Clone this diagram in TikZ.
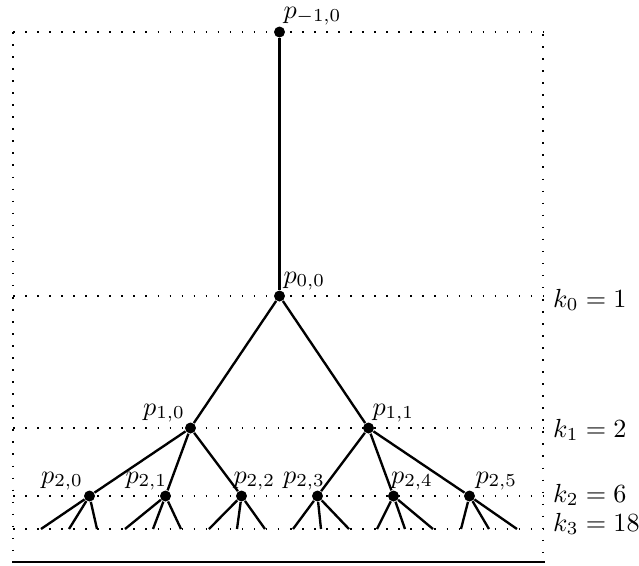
\documentclass[tikz,border=0pt]{standalone}
\begin{document}
\begin{tikzpicture}[x=0.382pt,y=-0.382pt,
  dot/.style={circle,fill=black,inner sep=0pt,minimum size=4.2pt},
  edge/.style={line width=0.9pt},
  guide/.style={dash pattern=on 0.6pt off 4pt,line width=0.7pt},
  base/.style={line width=1.1pt},
  lab/.style={anchor=base west,inner sep=0pt}]
\useasboundingbox (0,0) rectangle (639,565);
% guide lines
\foreach \n/\y in {t/32,a/296,b/428,c/496,d/529}{
  \coordinate (L\n) at (13,\y);
  \coordinate (R\n) at (543,\y);
  \draw[guide] (L\n) -- (R\n);
}
\coordinate (vLt) at (13,32);
\coordinate (vLb) at (13,556);
\coordinate (vRt) at (543,34);
\coordinate (vRb) at (543,556);
\draw[guide] (vLt) -- (vLb);
\draw[guide] (vRt) -- (vRb);
\coordinate (bL) at (12,562);
\coordinate (bR) at (545,562);
\draw[base] (bL) -- (bR);
% tree nodes
\node[dot] (pm) at (279.5,32) {};
\node[dot] (p00) at (279.5,296) {};
\node[dot] (p10) at (190.5,428) {};
\node[dot] (p11) at (368.5,428) {};
\foreach \j in {0,...,5}{
  \node[dot] (p2\j) at ({89.5+76*\j},496) {};
}
\foreach \i in {0,...,17}{
  \coordinate (leaf\i) at ({41+28*\i},529);
}
% edges
\draw[edge] (pm) -- (p00);
\draw[edge] (p00) -- (p10);
\draw[edge] (p00) -- (p11);
\foreach \j in {0,1,2}{ \draw[edge] (p10) -- (p2\j); }
\foreach \j in {3,4,5}{ \draw[edge] (p11) -- (p2\j); }
\foreach \j in {0,...,5}{
  \pgfmathtruncatemacro{\a}{3*\j}
  \pgfmathtruncatemacro{\b}{3*\j+1}
  \pgfmathtruncatemacro{\c}{3*\j+2}
  \draw[edge] (p2\j) -- (leaf\a);
  \draw[edge] (p2\j) -- (leaf\b);
  \draw[edge] (p2\j) -- (leaf\c);
}
% labels
\node[lab] (lpm) at (283,18) {$p_{-1,0}$};
\node[lab] (lp00) at (283,283) {$p_{0,0}$};
\node[lab] (lp10) at (142.7,415) {$p_{1,0}$};
\node[lab] (lp11) at (372,415) {$p_{1,1}$};
\node[lab] (lp20) at (40.7,483) {$p_{2,0}$};
\node[lab] (lp21) at (125,483) {$p_{2,1}$};
\node[lab] (lp22) at (233,483) {$p_{2,2}$};
\node[lab] (lp23) at (282.7,483) {$p_{2,3}$};
\node[lab] (lp24) at (390.7,483) {$p_{2,4}$};
\node[lab] (lp25) at (475,483) {$p_{2,5}$};
\node[lab] (k0) at (552.7,307) {$k_0=1$};
\node[lab] (k1) at (552.7,437) {$k_1=2$};
\node[lab] (k2) at (552.7,502) {$k_2=6$};
\node[lab] (k3) at (552.7,531) {$k_3=18$};
\end{tikzpicture}
\end{document}
